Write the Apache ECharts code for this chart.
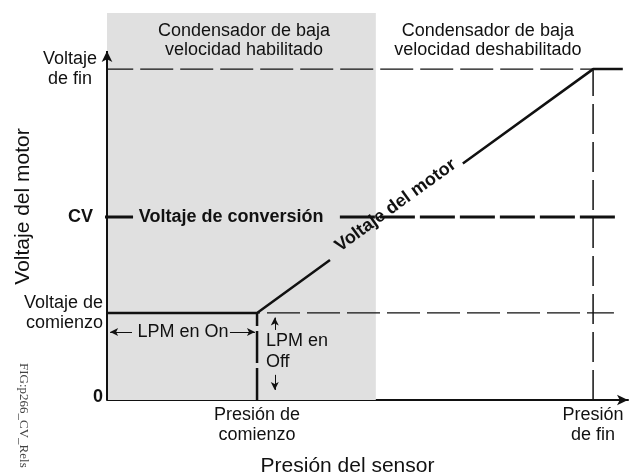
<!DOCTYPE html>
<html>
<head>
<meta charset="utf-8">
<script src="https://cdn.jsdelivr.net/npm/echarts@6/dist/echarts.min.js"></script>
<style>
  html, body { margin: 0; padding: 0; background: #ffffff; }
  #chart { width: 629px; height: 475px; }
</style>
</head>
<body>
<div id="chart"></div>
<script>
// ---- data (normalised pressure 0..100, normalised voltage 0..100) ----
const pressureTicks = [28.8, 93.3];
const pressureLabels = ['Presión de\ncomienzo', 'Presión\nde fin'];
const voltageTicks = [0, 22.5, 47.3, 85.5];
const voltageLabels = ['0', 'Voltaje de\ncomienzo', 'CV', 'Voltaje\nde fin'];

const lowSpeedZone = [0, 51.6];
const yAxisTop = 90.2;

// motor voltage curve (split where its label sits)
const motorVoltageA = [[0, 22.5], [28.8, 22.5], [42.8, 36.2]];
const motorVoltageB = [[68.3, 61.1], [93.3, 85.5], [99.0, 85.5]];

// reference lines
const endVoltageLine = [[-1.3, 85.5], [93.3, 85.5]];
const startVoltageLine = [[0, 22.5], [97.3, 22.5]];
const cvLineLeft = [[-1.3, 47.3], [5.0, 47.3]];
const cvLineRight = [[44.7, 47.3], [97.5, 47.3]];
const startPressureLine = [[28.8, 0], [28.8, 22.5]];
const endPressureLine = [[93.3, 0], [93.3, 85.5]];

// annotations
const zoneTexts = ['Condensador de baja\nvelocidad habilitado', 'Condensador de baja\nvelocidad deshabilitado'];
const zoneTextPos = [[26.3, 92.8], [73.1, 92.8]];
const cvText = 'Voltaje de conversión';
const cvTextPos = [6.1, 47.3];
const motorText = 'Voltaje del motor';
const motorTextPos = [55.4, 50.3];
const lpmOnText = 'LPM en On';
const lpmOnPos = [14.6, 17.6];
const lpmOnArrowL = [[4.8, 17.6], [0.6, 17.6]];
const lpmOnArrowR = [[23.6, 17.6], [28.4, 17.6]];
const lpmOffText = 'LPM en\nOff';
const lpmOffPos = [30.5, 12.6];
const lpmOffArrowUp = [[32.2, 18.1], [32.2, 21.3]];
const lpmOffArrowDown = [[32.2, 6.5], [32.2, 2.6]];

const xTitle = 'Presión del sensor';
const yTitle = 'Voltaje del motor';
const figText = 'FIG:p266_CV_Rels';

const FONT = 'Liberation Sans, Arial, sans-serif';
const INK = '#111111';

function lineSeries(data, width, type) {
  return {
    type: 'line', data: data, symbol: 'none', clip: false, silent: true,
    lineStyle: { color: INK, width: width, type: type, cap: 'butt', opacity: 1 },
    z: 3
  };
}

function arrowLine(seg, size) {
  return [{ coord: seg[0], symbol: 'none' }, { coord: seg[1], symbol: 'arrow', symbolSize: size }];
}

function textItem(pos, text, extra) {
  return {
    value: pos,
    label: Object.assign({
      show: true, position: 'inside', formatter: text,
      fontFamily: FONT, fontSize: 18, color: INK, opacity: 1
    }, extra)
  };
}

const chart = echarts.init(document.getElementById('chart'), null, { renderer: 'canvas' });

const option = {
  backgroundColor: '#ffffff',
  animation: false,
  grid: { left: 107, right: 1, top: 13, bottom: 75, containLabel: false, outerBoundsMode: 'none' },
  xAxis: {
    type: 'value', min: 0, max: 100,
    name: xTitle, nameLocation: 'middle', nameGap: 56, nameMoveOverlap: false,
    nameTextStyle: { fontFamily: FONT, fontSize: 21, color: INK, padding: [0, 40, 0, 0] },
    axisLine: { show: true, symbol: ['none', 'arrow'], symbolSize: [8, 11], lineStyle: { color: INK, width: 2 } },
    axisTick: { show: false },
    splitLine: { show: false },
    axisLabel: {
      customValues: pressureTicks,
      formatter: function (v) {
        const i = pressureTicks.indexOf(v);
        return i >= 0 ? pressureLabels[i] : '';
      },
      fontFamily: FONT, fontSize: 18, color: INK, lineHeight: 20, margin: 5, align: 'center'
    }
  },
  yAxis: {
    type: 'value', min: 0, max: 100,
    name: yTitle, nameLocation: 'middle', nameGap: 73, nameRotate: 90, nameMoveOverlap: false,
    nameTextStyle: { fontFamily: FONT, fontSize: 21, color: INK },
    axisLine: { show: false },
    axisTick: { show: false },
    splitLine: { show: false },
    axisLabel: {
      customValues: voltageTicks,
      margin: 4,
      formatter: function (v) {
        const i = voltageTicks.indexOf(v);
        if (i < 0) return '';
        const t = voltageLabels[i];
        if (i === 0) return '{z|' + t + '}';
        if (i === 2) return '{cv|' + t + '}';
        if (i === 3) return t.split('\n').map(s => '{f|' + s + '}').join('\n');
        return t.split('\n').map(s => '{n|' + s + '}').join('\n');
      },
      rich: {
        z: { fontFamily: FONT, fontSize: 18, fontWeight: 'bold', color: INK, padding: [0, 0, 6, 0] },
        cv: { fontFamily: FONT, fontSize: 18, fontWeight: 'bold', color: INK, padding: [0, 10, 0, 0] },
        f: { fontFamily: FONT, fontSize: 18, color: INK, width: 60, align: 'center', lineHeight: 20, padding: [0, 3, 0, 0] },
        n: { fontFamily: FONT, fontSize: 18, color: INK, lineHeight: 20 }
      }
    }
  },
  graphic: [{
    type: 'text', x: 23, y: 363, rotation: -Math.PI / 2,
    style: { text: figText, font: '13px "Liberation Serif", "Times New Roman", serif', fill: '#444', align: 'left', verticalAlign: 'middle' }
  }],
  series: [
    {
      type: 'line', data: [], silent: true, z: 1,
      markArea: {
        silent: true,
        itemStyle: { color: '#e0e0e0', opacity: 1 },
        data: [[{ coord: [lowSpeedZone[0], 0] }, { coord: [lowSpeedZone[1], 100] }]]
      }
    },
    {
      type: 'line', data: [], silent: true, z: 5,
      markLine: {
        silent: true, animation: false,
        label: { show: false },
        lineStyle: { color: INK, width: 2, type: 'solid', opacity: 1 },
        data: [arrowLine([[0, 0], [0, yAxisTop]], [8, 11])]
      }
    },
    {
      type: 'line', data: [], silent: true, z: 5,
      markLine: {
        silent: true, animation: false,
        label: { show: false },
        lineStyle: { color: INK, width: 1, type: 'solid', opacity: 1 },
        data: [
          arrowLine(lpmOnArrowL, [6, 8]),
          arrowLine(lpmOnArrowR, [6, 8]),
          arrowLine(lpmOffArrowUp, [6, 8]),
          arrowLine(lpmOffArrowDown, [6, 8])
        ]
      }
    },
    lineSeries(endVoltageLine, 1.2, [33, 7]),
    lineSeries(startVoltageLine, 1.2, [33, 7]),
    lineSeries(cvLineLeft, 3, 'solid'),
    lineSeries(cvLineRight, 3, [35, 5]),
    lineSeries(startPressureLine, 2.5, [32, 5]),
    lineSeries(endPressureLine, 1.5, [30, 8]),
    lineSeries(motorVoltageA, 2.5, 'solid'),
    lineSeries(motorVoltageB, 2.5, 'solid'),
    {
      type: 'scatter', symbolSize: 0, silent: true, clip: false, z: 6,
      itemStyle: { opacity: 1 },
      data: [
        textItem(zoneTextPos[0], zoneTexts[0], { lineHeight: 19, align: 'center' }),
        textItem(zoneTextPos[1], zoneTexts[1], { lineHeight: 19, align: 'center' }),
        textItem(cvTextPos, cvText, { fontWeight: 'bold', align: 'left' }),
        textItem(motorTextPos, motorText, { fontWeight: 'bold', rotate: 36 }),
        textItem(lpmOnPos, lpmOnText, { align: 'center' }),
        textItem(lpmOffPos, lpmOffText, { lineHeight: 21, align: 'left' })
      ]
    }
  ]
};

chart.setOption(option);
</script>
</body>
</html>
